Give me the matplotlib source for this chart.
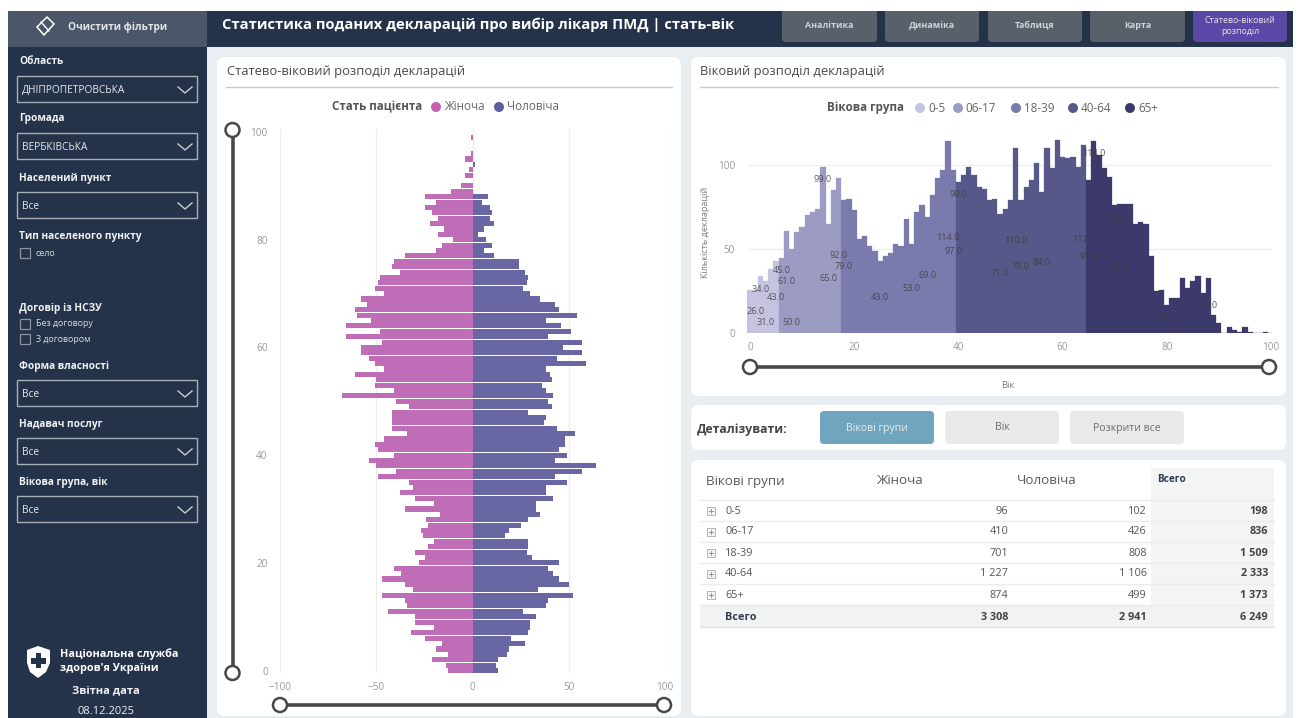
import numpy as np
import matplotlib
matplotlib.use("Agg")
import matplotlib.pyplot as plt
from matplotlib.patches import FancyBboxPatch, Rectangle, Circle, Polygon

plt.rcParams['font.family'] = ['Open Sans', 'DejaVu Sans']

# Дані
women = [13,14,21,13,19,16, 25,32,20,30,30,44,34,35,47,31,35,47,
         37,41,28,25,30,23,20,26,27,23,24,17,35,20,30,38,31,33,49,40,50,54,
         41,49,51,46,34,42,42,42,42,33,40,68,41,51,50,61,46,51,54,58,58,47,66,48,66,
         53,60,61,55,58,46,51,49,48,38,42,41,35,19,16,10,18,15,22,18,21,25,19,25,11,6,0,4,2,0,4,1,0,0,1,0]
men = [13,12,13,18,19,27, 20,29,30,30,33,26,38,39,52,34,50,45,
       42,39,45,31,28,29,29,17,19,25,29,35,33,33,42,38,38,49,43,57,64,43,
       49,45,48,48,53,44,37,38,29,41,39,42,38,36,41,40,38,59,44,57,47,57,39,51,46,
       38,54,45,43,35,30,26,28,29,27,24,24,11,6,10,7,3,6,11,9,10,9,5,8,0,0,0,0,0,1,0,0,0,0,0,0]
group_names = ['0-5', '06-17', '18-39', '40-64', '65+']
group_first = [0, 6, 18, 40, 65]
group_last = [5, 17, 39, 64, 100]
group_colors = ['#C4C4E0', '#9C9BC4', '#7B7AAD', '#585789', '#3C3A6A']
group_women = [96, 410, 701, 1227, 874]
group_men = [102, 426, 808, 1106, 499]
# вікові позначки на правому графіку
label_ages = [1,2,3,5,6,7,8,14,15,17,18,25,31,34,38,39,40,48,51,52,56,64,65,66,70,71,80,88]
moved_labels = {2:26.3, 3:6.7, 6:37.4, 8:6.7, 14:91.5, 40:82.4, 66:106.7, 70:68.3}

filters = [('Область', 62, 'ДНІПРОПЕТРОВСЬКА'), ('Громада', 119, 'ВЕРБКІВСЬКА'),
           ('Населений пункт', 178, 'Все'), ('Форма власності', 366, 'Все'),
           ('Надавач послуг', 424, 'Все'), ('Вікова група, вік', 482, 'Все')]
tabs = ['Аналітика', 'Динаміка', 'Таблиця', 'Карта', 'Статево-віковий\nрозподіл']

women = np.array(women)
men = np.array(men)
total = women + men
ages = np.arange(len(women))

W, H = 1300, 718
fig = plt.figure(figsize=(W/100, H/100), dpi=100, facecolor='white')

# Фонова вісь у пікселях
bg = fig.add_axes([0, 0, 1, 1])
bg.set_xlim(0, W)
bg.set_ylim(H, 0)
bg.axis('off')

def px_axes(x0, y0, x1, y1):
    ax = fig.add_axes([x0/W, 1-y1/H, (x1-x0)/W, (y1-y0)/H])
    ax.patch.set_alpha(0)
    for s in ax.spines.values():
        s.set_visible(False)
    return ax

def box(x0, y0, x1, y1, color, r=3, **kw):
    bg.add_patch(FancyBboxPatch((x0+r, y0+r), x1-x0-2*r, y1-y0-2*r,
                                boxstyle=f'round,pad={r},rounding_size={r}',
                                fc=color, ec='none', **kw))

def txt(x, y, s, size=8, color='#444444', weight='normal', ha='left', **kw):
    bg.text(x, y, s, fontsize=size, color=color, fontweight=weight, ha=ha, va='center', **kw)

NAVY = '#243349'

# Фон
bg.add_patch(Rectangle((207, 47), 1086, 671, fc='#E9EEF3', ec='none'))
bg.add_patch(Rectangle((207, 11), 1086, 36, fc=NAVY, ec='none'))
bg.add_patch(Rectangle((8, 11), 199, 707, fc=NAVY, ec='none'))
bg.add_patch(Rectangle((8, 11), 199, 36, fc='#4B566A', ec='none'))

# Панелі
for x0, y0, x1, y1 in [(217, 57, 681, 716), (691, 57, 1286, 396), (691, 405, 1286, 450), (691, 460, 1286, 716)]:
    box(x0, y0, x1, y1, 'white', r=8)

# Верхня смуга
txt(222, 25, 'Статистика поданих декларацій про вибір лікаря ПМД | стать-вік', size=10.6, color='white', weight='bold')
tab_x = [(782, 877), (885, 979), (988, 1082), (1090, 1185), (1193, 1287)]
for i, (name, (x0, x1)) in enumerate(zip(tabs, tab_x)):
    box(x0, 8, x1, 42, '#5B47A5' if i == 4 else '#58606A', r=4)
    txt((x0+x1)/2, 26, name, size=6.4, color='#E4E4E8' if i == 4 else '#D0D2D6', ha='center', weight='bold' if i < 4 else 'normal', linespacing=1.25)
bg.add_patch(Rectangle((0, 0), W, 11, fc='white', ec='none'))

# Бічна панель
bg.add_patch(Polygon([(37, 27), (47, 17), (54, 24), (44, 35)], closed=True, fc='none', ec='white', lw=1.1))
bg.plot([41, 49], [22, 31], color='white', lw=1)
txt(68, 27, 'Очистити фільтри', size=7.3, color='#E3E5E9', weight='bold')
for label, y, val in filters:
    txt(19, y, label, size=7.3, color='#F0F1F3', weight='bold')
    bg.add_patch(Rectangle((16.5, y+14), 180.5, 26, fc='none', ec='#A9AFB8', lw=1))
    txt(22, y+28.5, val, size=7.3, color='#E8EAED')
    bg.plot([178, 185, 192], [y+25, y+31, y+25], color='#C8CCD2', lw=1)
txt(19, 237, 'Тип населеного пункту', size=7.3, color='#F0F1F3', weight='bold')
txt(19, 308, 'Договір із НСЗУ', size=7.3, color='#F0F1F3', weight='bold')
for y, s in [(253, 'село'), (324, 'Без договору'), (339, 'З договором')]:
    bg.add_patch(Rectangle((19.5, y-5), 10, 10, fc='none', ec='#8B93A0', lw=0.9))
    txt(36, y, s, size=6.4, color='#D8DBE0')

# Логотип
bg.add_patch(Polygon([(27, 650), (38, 646), (50, 650), (50, 663), (46, 672), (38, 678), (30, 672), (27, 663)],
                     closed=True, fc='white', ec='none'))
bg.add_patch(Rectangle((35.5, 653), 5.5, 15, fc=NAVY, ec='none'))
bg.add_patch(Rectangle((31, 658), 14.5, 5.5, fc=NAVY, ec='none'))
txt(60, 654, 'Національна служба', size=7.8, color='white', weight='bold')
txt(60, 668, "здоров'я України", size=7.8, color='white', weight='bold')
txt(106, 691, 'Звітна дата', size=8, color='#F0F1F3', ha='center', weight='bold')
txt(106, 712, '08.12.2025', size=8, color='#F0F1F3', ha='center')

# Заголовки панелей
txt(227, 72, 'Статево-віковий розподіл декларацій', size=9.4, color='#4A4A4A')
bg.plot([226, 672], [87, 87], color='#C9CBCD', lw=1)
txt(700, 72, 'Віковий розподіл декларацій', size=9.4, color='#4A4A4A')
bg.plot([700, 1278], [87, 87], color='#C9CBCD', lw=1)

def legend_dot(x, y, color):
    bg.add_patch(Circle((x, y), 5, fc=color, ec='none'))

# Легенди
txt(332, 107, 'Стать пацієнта', size=8.4, color='#555555', weight='bold')
legend_dot(436, 107, '#C75FB2')
txt(444, 107, 'Жіноча', size=8.4, color='#666666')
legend_dot(499, 107, '#5F5C9E')
txt(507, 107, 'Чоловіча', size=8.4, color='#666666')
txt(827, 108, 'Вікова група', size=8.4, color='#555555', weight='bold')
for name, col, dx, tx in zip(group_names, group_colors, [920, 958, 1016, 1073, 1130], [928, 965, 1024, 1081, 1138]):
    legend_dot(dx, 108, col)
    txt(tx, 108, name, size=8.4, color='#666666')

# Повзунки
SL = '#484848'
def slider(x0, y0, x1, y1):
    bg.plot([x0, x1], [y0, y1], color=SL, lw=2.6, solid_capstyle='butt', zorder=5)
    for x, y in [(x0, y0), (x1, y1)]:
        bg.add_patch(Circle((x, y), 7, fc='white', ec=SL, lw=1.8, zorder=6))
slider(232.5, 130, 232.5, 673)
slider(280, 705, 664, 705)
slider(750, 367, 1269, 367)

# Піраміда
ax = px_axes(280.3, 129.4, 665, 673.2)
ax.barh(ages, -women, height=0.94, color='#BE6DB6', linewidth=0)
ax.barh(ages, men, height=0.94, color='#6866A3', linewidth=0)
ax.set_xlim(-100, 100)
ax.set_ylim(-0.5, 100.5)
ax.set_xticks([-100, -50, 0, 50, 100])
ax.set_yticks([0, 20, 40, 60, 80, 100])
ax.grid(True, axis='x', color='#EDEDED', lw=1)
ax.set_axisbelow(True)
ax.tick_params(length=0, labelsize=7.2, labelcolor='#9A9A9A', pad=6)
ax.tick_params(axis='y', pad=9)

# Віковий розподіл
ax2 = px_axes(747.4, 130, 1272, 333.3)
ax2.set_xlim(-0.5, 100.2)
ax2.set_ylim(0, 120.8)
for first, last, col in zip(group_first, group_last, group_colors):
    sel = ages[first:last+1]
    ax2.bar(sel, total[first:last+1], width=1.0, color=col, edgecolor=col, linewidth=0.2)
for a in label_ages:
    ax2.text(a, moved_labels.get(a, total[a]/2), f'{total[a]:.1f}', fontsize=6.6, color='#3A3A3A',
             alpha=0.8, ha='center', va='center')
ax2.set_xticks([0, 20, 40, 60, 80, 100])
ax2.set_yticks([0, 50, 100])
ax2.grid(True, axis='y', color='#EFEFEF', lw=1)
ax2.set_axisbelow(True)
ax2.tick_params(length=0, labelsize=7.2, labelcolor='#9A9A9A', pad=6)
ax2.tick_params(axis='y', pad=9)
txt(705, 232, 'Кількість декларацій', size=6.6, color='#7A7A7A', rotation=90, ha='center')
txt(1008, 385, 'Вік', size=6.8, color='#7A7A7A', ha='center')

# Кнопки
txt(697, 429, 'Деталізувати:', size=8.8, color='#444444', weight='bold')
box(820, 411, 934, 444, '#6FA5BF', r=4)
txt(877, 428, 'Вікові групи', size=7.6, color='#E6EEF2', ha='center')
box(945, 411, 1059, 444, '#E9E9E9', r=4)
txt(1002, 428, 'Вік', size=7.6, color='#6E6E6E', ha='center')
box(1070, 411, 1184, 444, '#E9E9E9', r=4)
txt(1127, 428, 'Розкрити все', size=7.6, color='#6E6E6E', ha='center')

# Таблиця
def fmt(v):
    return f'{v:,}'.replace(',', '\u00a0')

bg.add_patch(Rectangle((1151, 468), 123, 137, fc='#F3F4F4', ec='none'))
bg.add_patch(Rectangle((700, 605), 574, 22, fc='#F1F2F2', ec='none'))
txt(706, 481, 'Вікові групи', size=9.6, color='#5A5A5A')
txt(877, 481, 'Жіноча', size=9.6, color='#5A5A5A')
txt(1017, 481, 'Чоловіча', size=9.6, color='#5A5A5A')
txt(1157, 480, 'Всего', size=7.2, color='#2E3D55', weight='bold')
line_y = [500, 521, 542, 563, 584, 605]
for y in line_y:
    bg.plot([700, 1274], [y, y], color='#EBEBEB', lw=1)
bg.plot([700, 1274], [627, 627], color='#E6E6E6', lw=1)
col_x = [1008, 1147, 1268]
for i, name in enumerate(group_names):
    y = 511 + i*21
    bg.add_patch(Rectangle((707, y-4), 8, 8, fc='#F4F4F4', ec='#B5B5B5', lw=0.7))
    bg.plot([709, 713], [y, y], color='#888888', lw=0.6)
    bg.plot([711, 711], [y-2, y+2], color='#888888', lw=0.6)
    txt(725, y, name, size=7.8, color='#555555')
    txt(col_x[0], y, fmt(group_women[i]), size=7.8, color='#555555', ha='right')
    txt(col_x[1], y, fmt(group_men[i]), size=7.8, color='#555555', ha='right')
    txt(col_x[2], y, fmt(group_women[i]+group_men[i]), size=7.8, color='#444444', weight='bold', ha='right')
txt(725, 617, 'Всего', size=7.8, color='#2E3D55', weight='bold')
txt(col_x[0], 617, fmt(sum(group_women)), size=7.8, color='#444444', weight='bold', ha='right')
txt(col_x[1], 617, fmt(sum(group_men)), size=7.8, color='#444444', weight='bold', ha='right')
txt(col_x[2], 617, fmt(sum(group_women)+sum(group_men)), size=7.8, color='#444444', weight='bold', ha='right')

fig.savefig('out.png', dpi=100)
